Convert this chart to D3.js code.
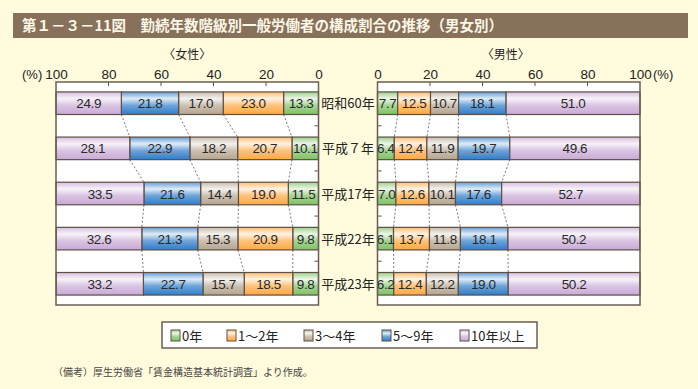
<!DOCTYPE html>
<html>
<head>
<meta charset="utf-8">
<script src="https://cdnjs.cloudflare.com/ajax/libs/d3/7.8.5/d3.min.js"></script>
<style>
  body { margin: 0; background: #fffbdc; }
  svg { display: block; font-family: "Noto Sans CJK JP", "Noto Sans", sans-serif; }
</style>
</head>
<body>
<div id="chart"></div>
<script>
// rows (years) and tenure classes
var years = ["昭和60年", "平成７年", "平成17年", "平成22年", "平成23年"];
var classes = ["0年", "1～2年", "3～4年", "5～9年", "10年以上"];

// values per year, in class order
var female = [
  [13.3, 23.0, 17.0, 21.8, 24.9],
  [10.1, 20.7, 18.2, 22.9, 28.1],
  [11.5, 19.0, 14.4, 21.6, 33.5],
  [9.8, 20.9, 15.3, 21.3, 32.6],
  [9.8, 18.5, 15.7, 22.7, 33.2]
];
var male = [
  [7.7, 12.5, 10.7, 18.1, 51.0],
  [6.4, 12.4, 11.9, 19.7, 49.6],
  [7.0, 12.6, 10.1, 17.6, 52.7],
  [6.1, 13.7, 11.8, 18.1, 50.2],
  [6.2, 12.4, 12.2, 19.0, 50.2]
];
var ticks = [0, 20, 40, 60, 80, 100];

var colors = ["#7fc164", "#ffa842", "#b4a58f", "#2f7dc9", "#c9aad6"];

var W = 698, H = 389;
var svg = d3.select("#chart").append("svg").attr("width", W).attr("height", H);

// gradients for the bar fills
var defs = svg.append("defs");
colors.forEach(function(c, i) {
  var g = defs.append("linearGradient").attr("id", "grad" + i)
    .attr("x1", 0).attr("y1", 0).attr("x2", 0).attr("y2", 1);
  g.append("stop").attr("offset", "0%").attr("stop-color", d3.interpolateRgb(c, "#fff")(0.25));
  g.append("stop").attr("offset", "30%").attr("stop-color", d3.interpolateRgb(c, "#fff")(0.85));
  g.append("stop").attr("offset", "60%").attr("stop-color", d3.interpolateRgb(c, "#fff")(0.3));
  g.append("stop").attr("offset", "100%").attr("stop-color", c);
});

// title bar
svg.append("rect").attr("x", 13).attr("y", 13).attr("width", 675).attr("height", 25)
  .attr("fill", "#87715a");
svg.append("text").attr("x", 22).attr("y", 31)
  .attr("fill", "#fbf6e6").attr("font-size", 14.5).attr("font-weight", "bold")
  .text("第１－３－11図　勤続年数階級別一般労働者の構成割合の推移（男女別）");

var plotTop = 82, plotBottom = 305;
var y = d3.scaleBand().domain(years).range([plotTop, plotBottom]).paddingInner(0.5).paddingOuter(0.22);

var xF = d3.scaleLinear().domain([100, 0]).range([56, 318.5]);
var xM = d3.scaleLinear().domain([0, 100]).range([377.5, 640]);

function panel(data, x, reversed, label) {
  var g = svg.append("g");
  var x0 = x.range()[0], x1 = x.range()[1];
  g.append("rect").attr("x", x0).attr("y", plotTop).attr("width", x1 - x0).attr("height", plotBottom - plotTop)
    .attr("fill", "#fff");

  // stacked segments
  var rows = data.map(function(vals, r) {
    var acc = 0;
    return vals.map(function(v, k) {
      var s = { year: years[r], k: k, v: v, a: acc, b: acc + v };
      acc += v;
      return s;
    });
  });

  // dashed connectors between rows
  for (var r = 0; r < rows.length - 1; r++) {
    for (var k = 0; k < 4; k++) {
      g.append("line")
        .attr("x1", x(rows[r][k].b)).attr("y1", y(years[r]) + y.bandwidth())
        .attr("x2", x(rows[r + 1][k].b)).attr("y2", y(years[r + 1]))
        .attr("stroke", "#555").attr("stroke-width", 0.8).attr("stroke-dasharray", "2,2");
    }
  }

  rows.forEach(function(segs) {
    var gg = g.selectAll(null).data(segs).enter();
    gg.append("rect")
      .attr("x", function(d) { return Math.min(x(d.a), x(d.b)); })
      .attr("y", function(d) { return y(d.year); })
      .attr("width", function(d) { return Math.abs(x(d.b) - x(d.a)); })
      .attr("height", y.bandwidth())
      .attr("fill", function(d) { return "url(#grad" + d.k + ")"; })
      .attr("stroke", "#5e4f45").attr("stroke-width", 1.2);
    gg.append("text")
      .attr("x", function(d) { return (x(d.a) + x(d.b)) / 2; })
      .attr("y", function(d) { return y(d.year) + y.bandwidth() / 2 + 5; })
      .attr("text-anchor", "middle").attr("font-size", 13.5).attr("fill", "#2a2a2a")
      .attr("font-family", "Liberation Sans, Arial, sans-serif")
      .attr("letter-spacing", -0.4)
      .text(function(d) { return d.v.toFixed(1); });
  });

  // small ticks between rows on the inner side
  var inner = reversed ? x1 : x0;
  var dir = reversed ? -1 : 1;
  for (var i = 0; i < years.length - 1; i++) {
    var ym = (y(years[i]) + y.bandwidth() + y(years[i + 1])) / 2;
    g.append("line").attr("x1", inner).attr("x2", inner + dir * 4).attr("y1", ym).attr("y2", ym)
      .attr("stroke", "#5e4f45").attr("stroke-width", 1);
  }

  // top axis
  var axis = d3.axisTop(x).tickValues(ticks).tickSize(0).tickPadding(3).tickFormat(d3.format("d"));
  var ag = g.append("g").attr("transform", "translate(0," + plotTop + ")").call(axis);
  ag.select(".domain").remove();
  ag.selectAll("text").attr("font-size", 13.5).attr("fill", "#222")
    .attr("font-family", "Liberation Sans, Arial, sans-serif");
  ticks.filter(function(t) { return t > 0 && t < 100; }).forEach(function(t) {
    g.append("line").attr("x1", x(t)).attr("x2", x(t)).attr("y1", plotTop).attr("y2", plotTop + 4)
      .attr("stroke", "#5e4f45");
  });

  g.append("rect").attr("x", x0).attr("y", plotTop).attr("width", x1 - x0).attr("height", plotBottom - plotTop)
    .attr("fill", "none").attr("stroke", "#6b5d55").attr("stroke-width", 1.5);

  g.append("text").attr("x", (x0 + x1) / 2 + (reversed ? 0 : -3)).attr("y", 59)
    .attr("text-anchor", "middle").attr("font-size", 12).attr("fill", "#222").text(label);
}

panel(female, xF, true, "〈女性〉");
panel(male, xM, false, "〈男性〉");

svg.append("text").attr("x", 22).attr("y", 79).attr("font-size", 13).attr("fill", "#222")
  .attr("font-family", "Liberation Sans, Arial, sans-serif").text("(%)");
svg.append("text").attr("x", 653).attr("y", 79).attr("font-size", 13).attr("fill", "#222")
  .attr("font-family", "Liberation Sans, Arial, sans-serif").text("(%)");

// year labels
svg.selectAll(".yl").data(years).enter().append("text")
  .attr("x", 348).attr("y", function(d) { return y(d) + y.bandwidth() / 2 + 5; })
  .attr("text-anchor", "middle").attr("font-size", 13).attr("fill", "#222")
  .text(function(d) { return d; });

// legend
var lg = svg.append("g");
lg.append("rect").attr("x", 162).attr("y", 322).attr("width", 375).attr("height", 26)
  .attr("fill", "#fff").attr("stroke", "#6b5d55").attr("stroke-width", 1.5);
var lx = [171, 227, 304, 382, 460];
classes.forEach(function(c, i) {
  lg.append("rect").attr("x", lx[i]).attr("y", 330).attr("width", 9).attr("height", 11)
    .attr("fill", "url(#grad" + i + ")").attr("stroke", "#5e4f45").attr("stroke-width", 1);
  lg.append("text").attr("x", lx[i] + 11).attr("y", 340.5).attr("font-size", 13).attr("fill", "#222")
    .text(c);
});

svg.append("text").attr("x", 53).attr("y", 376).attr("font-size", 10).attr("fill", "#444")
  .text("（備考）厚生労働省「賃金構造基本統計調査」より作成。");
</script>
</body>
</html>
